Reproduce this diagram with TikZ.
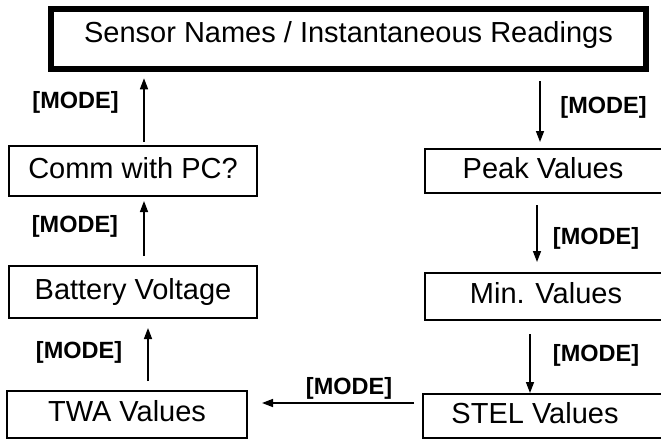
\documentclass[tikz,border=0pt]{standalone}
\usepackage{fontspec}
\setmainfont{Liberation Sans}
\usetikzlibrary{arrows.meta}
\begin{document}
\begin{tikzpicture}[x=1pt,y=-1pt,
  box/.style={draw, line width=2pt, inner sep=0pt, font=\fontsize{29pt}{34pt}\selectfont, text height=20pt, text depth=6pt},
  lab/.style={font=\fontsize{23.5pt}{27pt}\selectfont\bfseries, inner sep=0pt, text height=17pt, text depth=5pt},
  arr/.style={line width=1.5pt, -{Triangle[length=11pt,width=8pt]}}]
\useasboundingbox (0,0) rectangle (661,439);
\clip (0,0) rectangle (661,439);
\node[box, line width=6.5pt, minimum width=595pt, minimum height=60pt, text depth=14pt] (top) at (348.5,39) {Sensor Names / Instantaneous Readings};
\node[box, minimum width=248pt, minimum height=50pt] (comm) at (133,171) {Comm with PC?};
\node[box, minimum width=248pt, minimum height=52pt] (bat) at (133,292) {Battery Voltage};
\node[box, minimum width=240pt, minimum height=47pt] (twa) at (127,414.5) {TWA Values};
\node[box, minimum width=255pt, minimum height=44pt] (peak) at (552.5,171) {Peak Values\hspace*{19pt}};
\node[box, minimum width=255pt, minimum height=47pt] (min) at (552.5,296.5) {Min. Values\hspace*{13pt}};
\node[box, minimum width=257pt, minimum height=44pt] (stel) at (551.5,416) {STEL Values\hspace*{33pt}};
% arrows
\draw[arr, shorten <=3pt, shorten >=6pt] ([xshift=11pt]comm.north) -- ([xshift=11pt]comm.north |- top.south);
\draw[arr, shorten <=9pt, shorten >=4pt] ([xshift=11pt]bat.north) -- ([xshift=11pt]bat.north |- comm.south);
\draw[arr, shorten <=9pt, shorten >=9pt] ([xshift=21pt]twa.north) -- ([xshift=21pt]twa.north |- bat.south);
\draw[arr, shorten <=9pt, shorten >=6pt] ([xshift=-12.5pt]peak.north |- top.south) -- ([xshift=-12.5pt]peak.north);
\draw[arr, shorten <=11pt, shorten >=10pt] ([xshift=-15.5pt]min.north |- peak.south) -- ([xshift=-15.5pt]min.north);
\draw[arr, shorten <=13pt, shorten >=0pt] ([xshift=-21.5pt]stel.north |- min.south) -- ([xshift=-21.5pt]stel.north);
\draw[arr, shorten <=8pt, shorten >=14pt] ([yshift=13pt]stel.west) -- ([yshift=13pt]stel.west -| twa.east);
% labels
\node[lab] (m1) at (75.5,102) {[MODE]};
\node[lab] (m2) at (75,226) {[MODE]};
\node[lab] (m3) at (79,352) {[MODE]};
\node[lab] (m4) at (603.5,107) {[MODE]};
\node[lab] (m5) at (596,238) {[MODE]};
\node[lab] (m6) at (596,355) {[MODE]};
\node[lab] (m7) at (349,388) {[MODE]};
\end{tikzpicture}
\end{document}
